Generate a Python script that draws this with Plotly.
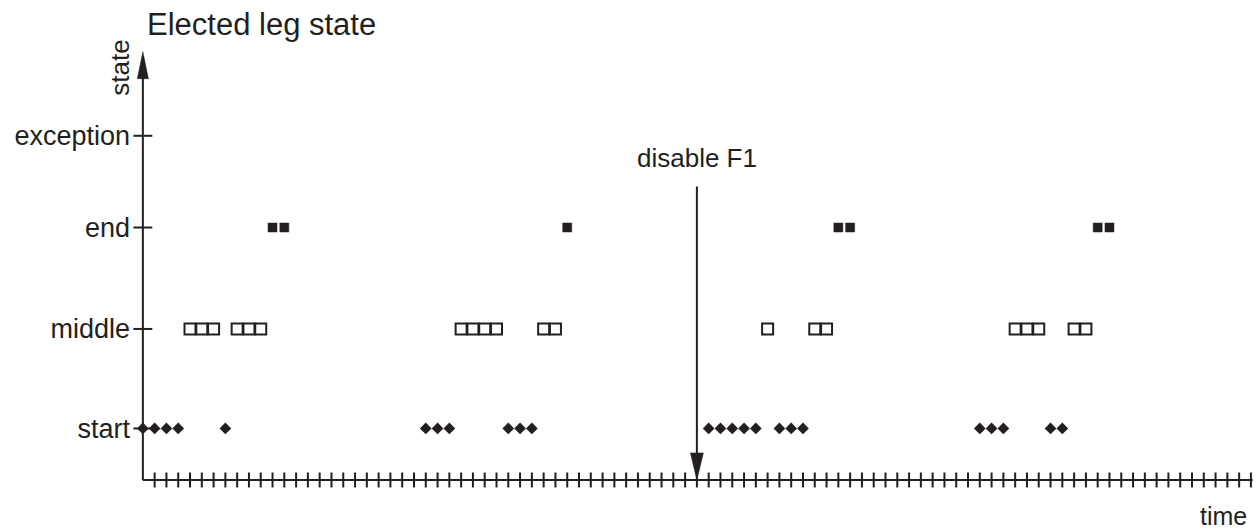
import plotly.graph_objects as go

# ---- data ----
states = ["start", "middle", "end", "exception"]
start_t = [0, 1, 2, 3, 7, 24, 25, 26, 31, 32, 33, 48, 49, 50, 51, 52, 54, 55, 56,
           71, 72, 73, 77, 78]
middle_t = [4, 5, 6, 8, 9, 10, 27, 28, 29, 30, 34, 35, 53, 57, 58, 74, 75, 76, 79, 80]
end_t = [11, 12, 36, 59, 60, 81, 82]
exception_t = []
time_ticks = list(range(1, 95))
event_t = 47
event_label = "disable F1"
title_text = "Elected leg state"
x_label = "time"
y_label = "state"

# ---- layout scale choices ----
level = {"start": 0.0, "middle": 1.02, "end": 2.06, "exception": 3.0}
X0, X1 = -1.6, 94.6          # plot range
X_AXIS_END = 94.15           # where the drawn time axis ends
Y0, Y1 = -0.6, 3.9           # plot range
Y_AXIS = -0.528              # level of the drawn time axis
Y_TIP = 3.862                # tip of the state-axis arrow
INK = "#231f20"
FONT = "Liberation Sans, Arial, sans-serif"

fig = go.Figure()

def deco(**kw):
    fig.add_trace(go.Scatter(cliponaxis=False, hoverinfo="skip", showlegend=False, **kw))

# axis lines
deco(x=[0, X_AXIS_END], y=[Y_AXIS, Y_AXIS], mode="lines", line=dict(width=2, color=INK))
deco(x=[0, 0], y=[Y_AXIS, Y_TIP - 0.1], mode="lines", line=dict(width=2, color=INK))

# x-axis tick marks crossing the axis line
deco(x=time_ticks, y=[Y_AXIS] * len(time_ticks), mode="markers",
     marker=dict(symbol="line-ns", size=10.7, line=dict(width=2, color=INK)))

# y-axis tick marks crossing the axis line
deco(x=[0] * len(states), y=[level[s] for s in states], mode="markers",
     marker=dict(symbol="line-ew", size=13.5, line=dict(width=2, color=INK)))

# state-axis arrowhead
deco(x=[-0.47, 0.47, 0, -0.47], y=[Y_TIP - 0.277, Y_TIP - 0.277, Y_TIP, Y_TIP - 0.277],
     mode="lines", fill="toself", fillcolor=INK, line=dict(width=0.5, color=INK))

# event line + arrowhead
deco(x=[event_t, event_t], y=[2.48, Y_AXIS + 0.2], mode="lines",
     line=dict(width=2, color=INK))
deco(x=[event_t - 0.55, event_t + 0.55, event_t, event_t - 0.55],
     y=[Y_AXIS + 0.277, Y_AXIS + 0.277, Y_AXIS, Y_AXIS + 0.277],
     mode="lines", fill="toself", fillcolor=INK, line=dict(width=0.5, color=INK))

# state markers
fig.add_trace(go.Scatter(
    x=start_t, y=[level["start"]] * len(start_t), mode="markers",
    marker=dict(symbol="diamond", size=9, color=INK, line=dict(width=0)),
    cliponaxis=False, showlegend=False))
fig.add_trace(go.Scatter(
    x=middle_t, y=[level["middle"]] * len(middle_t), mode="markers",
    marker=dict(symbol="square-open", size=11, color=INK, line=dict(width=2, color=INK)),
    cliponaxis=False, showlegend=False))
fig.add_trace(go.Scatter(
    x=end_t, y=[level["end"]] * len(end_t), mode="markers",
    marker=dict(symbol="square", size=9, color=INK, line=dict(width=0.5, color=INK)),
    cliponaxis=False, showlegend=False))
fig.add_trace(go.Scatter(
    x=exception_t, y=[level["exception"]] * len(exception_t), mode="markers",
    marker=dict(symbol="x", size=8, color=INK),
    cliponaxis=False, showlegend=False))

fig.update_layout(
    width=1259, height=532,
    margin=dict(l=124, r=1, t=48, b=45),
    paper_bgcolor="white", plot_bgcolor="white",
    font=dict(family=FONT, color=INK, size=26),
    title=dict(text=title_text, x=147 / 1259, xref="container", xanchor="left",
               y=1 - 24 / 532, yref="container", yanchor="middle",
               font=dict(size=31, family=FONT, color=INK)),
    xaxis=dict(range=[X0, X1], showgrid=False, zeroline=False, showline=False,
               showticklabels=False, ticks=""),
    yaxis=dict(range=[Y0, Y1], showgrid=False, zeroline=False, showline=False,
               ticks="", tickvals=[level[s] for s in states], ticktext=states,
               tickfont=dict(size=27, family=FONT, color=INK),
               ticklabelstandoff=-7),
    annotations=[
        dict(text=event_label, x=event_t, y=2.774, xref="x", yref="y",
             showarrow=False, font=dict(size=26, family=FONT, color=INK),
             xanchor="center", yanchor="middle"),
        dict(text=x_label, x=(1223 - 124) / 1134, y=-0.066, xref="paper", yref="paper",
             showarrow=False, font=dict(size=25, family=FONT, color=INK),
             xanchor="center", yanchor="middle"),
        dict(text=y_label, x=(120 - 124) / 1134, y=0.955, xref="paper", yref="paper",
             textangle=-90, showarrow=False, font=dict(size=26, family=FONT, color=INK),
             xanchor="center", yanchor="middle"),
    ],
)

fig.write_html("out.html")
